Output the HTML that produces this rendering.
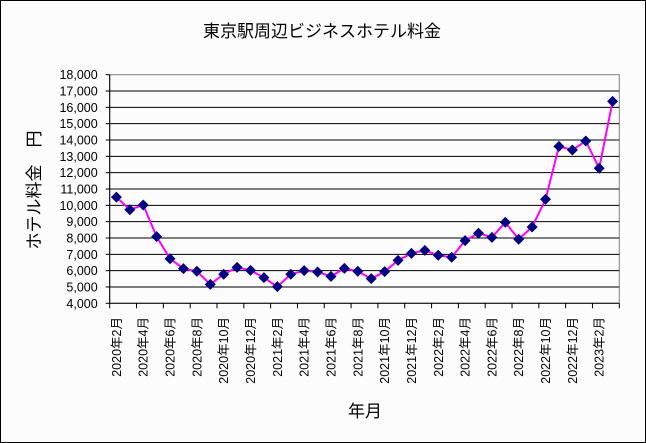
<!DOCTYPE html>
<html><head><meta charset="utf-8"><style>
body{margin:0;background:#fcfcfc}
svg{display:block;font-family:"Liberation Sans","Noto Sans CJK JP",sans-serif}
</style></head><body>
<svg id="chart" width="646" height="443" viewBox="0 0 646 443" xmlns="http://www.w3.org/2000/svg">
<rect x="0.5" y="0.5" width="645" height="442" fill="#fcfcfc" stroke="#000"/>
<text x="322" y="37" font-size="17" text-anchor="middle">東京駅周辺ビジネスホテル料金</text>
<text transform="translate(40,190) rotate(-90)" font-size="17" text-anchor="middle">ホテル料金　円</text>
<text x="365" y="417" font-size="17" text-anchor="middle">年月</text>
<g id="grid"></g><g id="axes"></g><g id="series"></g>
</svg>
<script>
const months = [];
for (let i = 0; i < 38; i++) { const m = 2 + i; const y = 2020 + Math.floor((m - 1) / 12); months.push(y + "年" + (((m - 1) % 12) + 1) + "月"); }
const prices = [10500,9730,10020,8080,6730,6120,5960,5160,5780,6200,6020,5570,5020,5780,6000,5920,5650,6140,5960,5510,5940,6630,7060,7240,6940,6820,7840,8290,8040,8960,7920,8670,10370,13610,13390,13940,12270,16370];
const yTicks = [4000,5000,6000,7000,8000,9000,10000,11000,12000,13000,14000,15000,16000,17000,18000];
const L=109.7,R=619.3,T=74.7,B=303.3,yMin=4000,yMax=18000;
const ns="http://www.w3.org/2000/svg";
const bw=(R-L)/months.length;
const xs=i=>L+bw*(i+0.5);
const ys=v=>B-(v-yMin)/(yMax-yMin)*(B-T);
function mk(t,a,p){const e=document.createElementNS(ns,t);for(const k in a)e.setAttribute(k,a[k]);p.appendChild(e);return e;}
const grid=document.getElementById('grid'),axes=document.getElementById('axes'),ser=document.getElementById('series');
mk('rect',{x:L,y:T,width:R-L,height:B-T,fill:'#fcfcfc',stroke:'#808080'},grid);
yTicks.forEach(v=>{
  if(v>yMin&&v<yMax){const g=mk('line',{x1:L,x2:R,y1:ys(v),y2:ys(v),stroke:'#000'},grid);
  
  }
  const t=mk('text',{x:L-12,y:ys(v)+4.5,'font-size':'12.5','text-anchor':'end'},axes);
  t.textContent=v.toLocaleString('en-US');
  
  
  mk('line',{x1:L-4,x2:L,y1:ys(v),y2:ys(v),stroke:'#000'},axes);
});
mk('line',{x1:L,x2:L,y1:T,y2:B,stroke:'#000'},axes);
mk('line',{x1:L,x2:R,y1:B,y2:B,stroke:'#000'},axes);
for(let i=0;i<=months.length;i+=2){mk('line',{x1:L+bw*i,x2:L+bw*i,y1:B,y2:B+5,stroke:'#000'},axes);}
months.forEach((m,i)=>{if(i%2)return;
  const t=mk('text',{transform:`translate(${xs(i)+4.5},317) rotate(-90)`,'font-size':'12.5','text-anchor':'end'},axes);
  t.textContent=m;
  
  
});
const pts=prices.map((v,i)=>xs(i)+','+ys(v)).join(' ');
const line=mk('polyline',{points:pts,fill:'none',stroke:'#ff00ff','stroke-width':2},ser);


prices.forEach((v,i)=>{const x=xs(i),y=ys(v);
  const p=mk('polygon',{points:`${x},${y-5.5} ${x+5.5},${y} ${x},${y+5.5} ${x-5.5},${y}`,fill:'#000080'},ser);
  
  
});
</script>
</body></html>
